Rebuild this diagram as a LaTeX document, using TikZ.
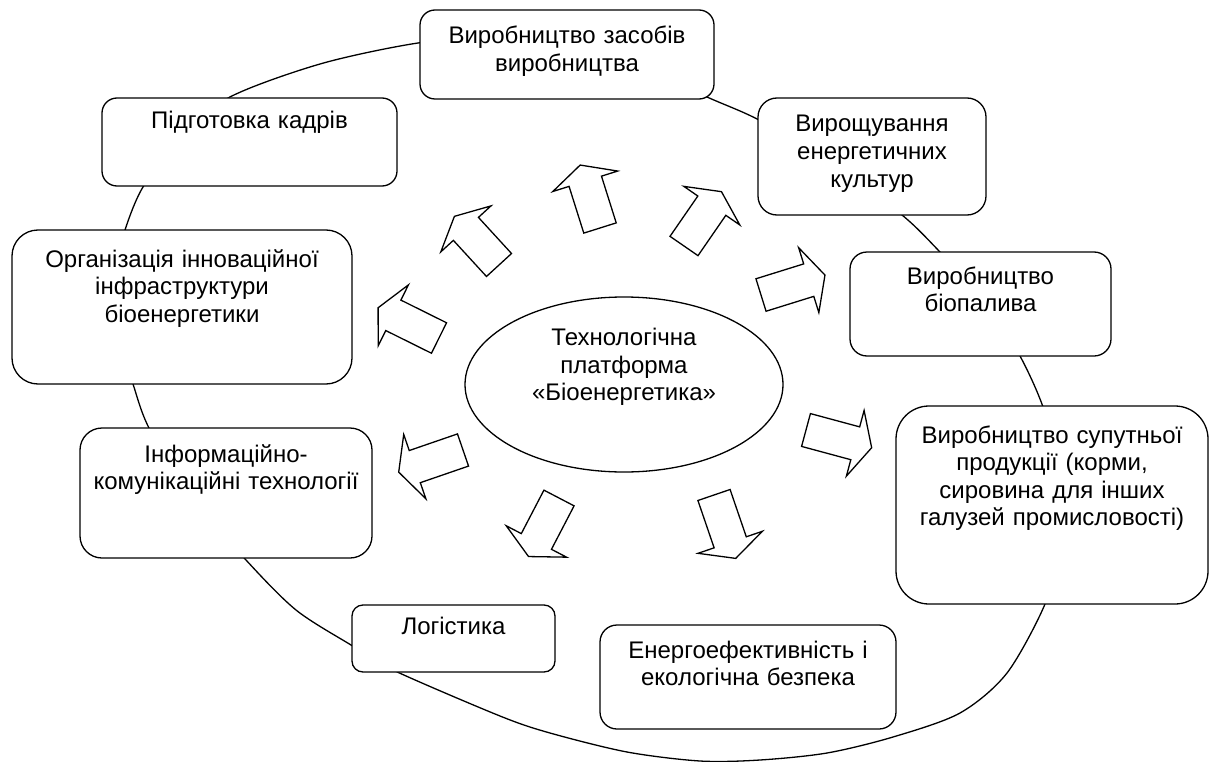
\documentclass[tikz,border=0pt]{standalone}
\usepackage{fontspec}
\setmainfont{Liberation Sans}
\usepackage{tikz}
\usetikzlibrary{shapes.geometric}

\begin{document}
\begin{tikzpicture}[x=1pt,y=-1pt,
    box/.style={draw,fill=white,line width=1.3pt,rectangle,inner sep=0pt},
    txt/.style={anchor=base,align=center,inner sep=0pt,text width=#1,
      font=\fontsize{24}{27.6}\selectfont},
    blockarrow/.style={draw,fill=white,line width=1.3pt,line join=miter}]
    \useasboundingbox (0,0) rectangle (1209,762);

    % ring behind the boxes
    \draw[line width=1.3pt] plot[smooth cycle] coordinates {
        (228,98) (320,64) (418,43) (500,37) (570,45) (640,66) (707,97)
        (759,120) (830,162) (902,215) (940,252) (985,300) (1020,356)
        (1043,407) (1056,460) (1058,510) (1053,560) (1045,604) (1007,673)
        (960,713) (893,737) (827,753) (760,760) (700,761) (627,752)
        (550,733) (500,716) (393,670) (351,645)
        (296,610) (246,560) (190,495) (149,428) (133,384) (120,340)
        (116,300) (119,260) (125,230) (143,187) (180,140)};

    % boxes on the ring
    \node[box,minimum width=294pt,minimum height=89pt,rounded corners=15pt] (zasobiv) at (567,54.5) {};
    \node[txt=280pt] (zasobiv-t) at (567,44) {Виробництво засобів\\виробництва};

    \node[box,minimum width=228pt,minimum height=117pt,rounded corners=19pt] (kultury) at (872,156.5) {};
    \node[txt=215pt] (kultury-t) at (872,132) {Вирощування\\енергетичних\\культур};

    \node[box,minimum width=261pt,minimum height=104pt,rounded corners=17pt] (palyvo) at (980.5,304) {};
    \node[txt=245pt] (palyvo-t) at (980.5,284) {Виробництво\\біопалива};

    \node[box,minimum width=312pt,minimum height=198pt,rounded corners=33pt] (suputnia) at (1052,505) {};
    \node[txt=295pt] (suputnia-t) at (1052,443) {Виробництво супутньої\\продукції (корми,\\сировина для інших\\галузей промисловості)};

    \node[box,minimum width=296pt,minimum height=104pt,rounded corners=17pt] (bezpeka) at (748,677) {};
    \node[txt=285pt] (bezpeka-t) at (748,658) {Енергоефективність і\\екологічна безпека};

    \node[box,minimum width=203pt,minimum height=67pt,rounded corners=11pt] (logistyka) at (453.5,638.5) {};
    \node[txt=190pt] (logistyka-t) at (453.5,634) {Логістика};

    \node[box,minimum width=292pt,minimum height=130pt,rounded corners=22pt] (ikt) at (226,493) {};
    \node[txt=280pt] (ikt-t) at (226,462) {Інформаційно-\\комунікаційні технології};

    \node[box,minimum width=340pt,minimum height=154pt,rounded corners=26pt] (infra) at (182,307) {};
    \node[txt=320pt] (infra-t) at (182,267) {Організація інноваційної\\інфраструктури\\біоенергетики};

    \node[box,minimum width=295pt,minimum height=88pt,rounded corners=15pt] (kadry) at (249.5,142) {};
    \node[txt=280pt] (kadry-t) at (249.5,129) {Підготовка кадрів};

    % centre
    \node[draw,fill=white,line width=1.3pt,ellipse,inner sep=0pt,
        minimum width=318pt,minimum height=175pt] (platforma) at (624,384.5) {};
    \node[txt=300pt] (platforma-t) at (624,345.7) {Технологічна\\платформа\\«Біоенергетика»};

    % block arrows: tail centre x / y / angle / length
    \foreach \px/\py/\ang/\len in {499/265/132.5/66, 600/228/107.5/66, 684/246/55.4/66,
        761/295/17.3/67, 439/338/153.6/68, 463/450/199/68, 559/498/242.5/66,
        714/495/288.9/67, 806/430/-15.1/68} {
        \draw[blockarrow,shift={(\px,\py)},rotate=\ang]
            (0,-17) -- ({\len-17},-17) -- ({\len-17},-34) -- (\len,0)
            -- ({\len-17},34) -- ({\len-17},17) -- (0,17) -- cycle;
    }
\end{tikzpicture}
\end{document}
